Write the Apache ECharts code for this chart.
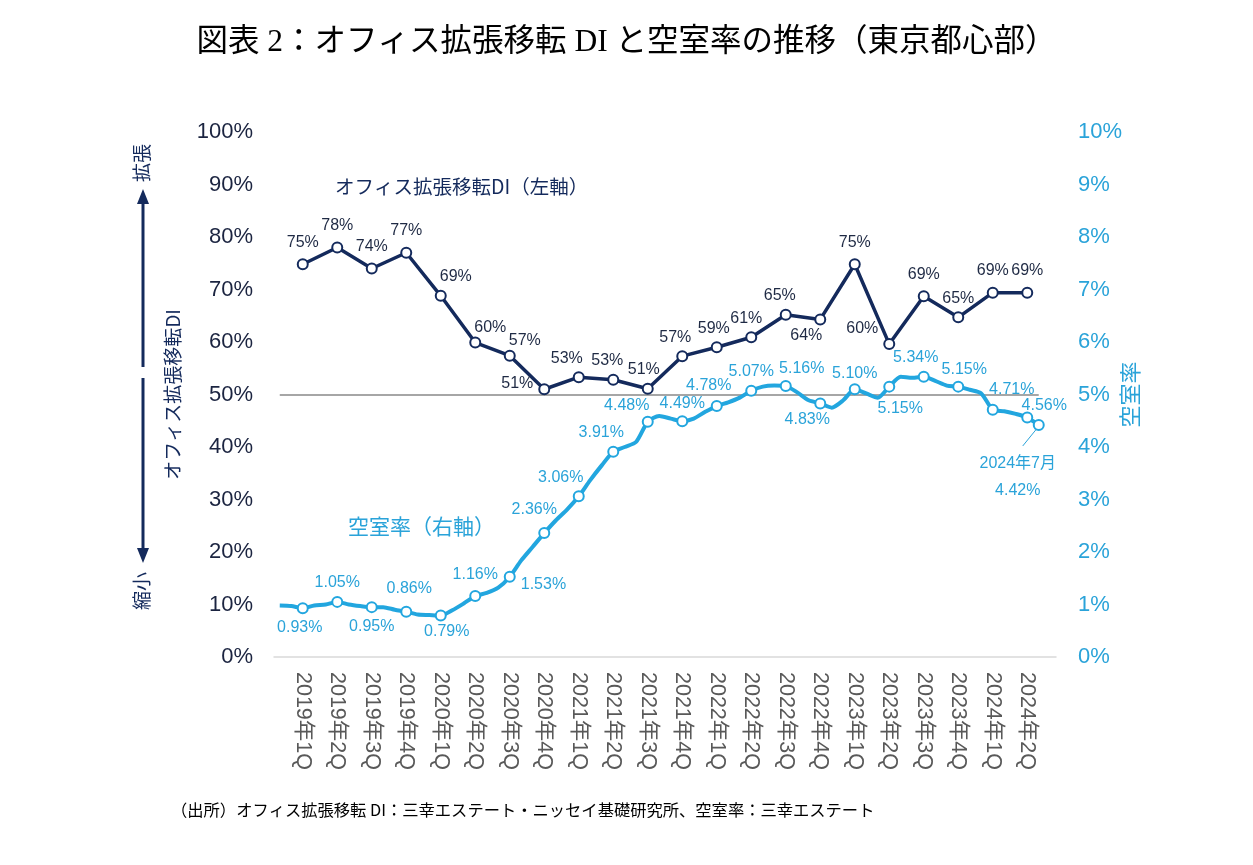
<!DOCTYPE html>
<html>
<head>
<meta charset="utf-8">
<title>オフィス拡張移転DIと空室率の推移（東京都心部）</title>
<script src="https://cdn.jsdelivr.net/npm/echarts@6/dist/echarts.min.js"></script>
<style>
  html, body { margin: 0; padding: 0; background: #fff; }
  #main { width: 1253px; height: 865px; }
</style>
</head>
<body>
<div id="main"></div>
<script>
// 四半期ラベル（横軸）
var quarterLabels = ['2019年1Q', '2019年2Q', '2019年3Q', '2019年4Q',
    '2020年1Q', '2020年2Q', '2020年3Q', '2020年4Q',
    '2021年1Q', '2021年2Q', '2021年3Q', '2021年4Q',
    '2022年1Q', '2022年2Q', '2022年3Q', '2022年4Q',
    '2023年1Q', '2023年2Q', '2023年3Q', '2023年4Q',
    '2024年1Q', '2024年2Q'];

// オフィス拡張移転DI（%、四半期）
var diValues = [74.8, 78.0, 74.0, 77.0, 68.8, 59.9, 57.4, 51.0, 53.3, 52.8, 51.1,
    57.3, 59.0, 60.9, 65.2, 64.3, 74.8, 59.6, 68.7, 64.7, 69.4, 69.4];

// 空室率（%、月次 2019年1月〜2024年7月）
var vacancy2019 = [0.98, 0.97, 0.93, 0.98, 1.00, 1.05, 1.00, 0.97, 0.95, 0.95, 0.90, 0.86];
var vacancy2020 = [0.81, 0.80, 0.79, 0.89, 1.02, 1.16, 1.22, 1.32, 1.53, 1.84, 2.10, 2.36];
var vacancy2021 = [2.60, 2.81, 3.06, 3.37, 3.65, 3.91, 4.00, 4.10, 4.48, 4.59, 4.54, 4.49];
var vacancy2022 = [4.54, 4.67, 4.78, 4.85, 4.94, 5.07, 5.15, 5.17, 5.16, 5.04, 4.89, 4.83];
var vacancy2023 = [4.75, 4.89, 5.10, 5.02, 4.94, 5.15, 5.34, 5.32, 5.34, 5.26, 5.17, 5.15];
var vacancy2024 = [5.09, 5.02, 4.71, 4.68, 4.63, 4.56, 4.42];

var leftTicks = [0, 100, 10];   // min, max, interval
var rightTicks = [0, 10, 1];
var baseLevel = 50;

// ラベル位置（位置, dx, dy）
var diLabelPos = [
    ['top', 0, -3], ['top', 0, -3], ['top', 0, -3], ['top', 0, -3],
    ['top', 15, 0], ['top', 15, 4], ['top', 15, 4], ['left', 0, -6],
    ['top', -12, 0], ['top', -6, 0], ['top', -4, 0], ['top', -7, 0],
    ['top', -3, 0], ['top', -5, 0], ['top', -6, 0], ['bottom', -14, -3],
    ['top', 0, -3], ['left', 0, -16], ['top', 0, -3], ['top', 0, 0],
    ['top', 0, -3], ['top', 0, -3]];
var vacLabelPos = [
    ['bottom', -3, 0], ['top', 0, 0], ['bottom', 0, 0], ['top', 3, -4],
    ['bottom', 6, -3], ['top', 0, -3], ['right', 0, 8], ['top', -10, -5],
    ['top', -18, 0], ['top', -12, 0], ['top', -21, 3], ['top', 0, 1],
    ['top', -8, -1], ['top', 0, 0], ['top', 16, 1], ['bottom', -13, -3],
    ['top', 0, 3], ['bottom', 11, 3], ['top', -8, 0], ['top', 6, 2],
    ['top', 19, -1], ['top', 17, 7], ['bottom', -21, 14]];

var NAVY = '#142a5c';
var CYAN = '#22a6df';
var CYAN_TXT = '#2aa3d9';
var FONT = "'Liberation Sans', 'Noto Sans CJK JP', sans-serif";
var JP = "'Noto Sans CJK JP', sans-serif";

var vacancyValues = vacancy2019.concat(vacancy2020, vacancy2021, vacancy2022, vacancy2023, vacancy2024);

// 月次カテゴリ（2019年1月〜2024年8月）
var months = [];
for (var i = 0; i < 68; i++) {
    months.push((2019 + Math.floor(i / 12)) + '年' + (i % 12 + 1) + '月');
}
var tickText = {};
quarterLabels.forEach(function (q, k) { tickText[2 + 3 * k] = q; });

var diData = months.map(function () { return null; });
diValues.forEach(function (v, k) {
    var p = diLabelPos[k];
    diData[2 + 3 * k] = {
        value: v,
        label: { position: p[0], offset: [p[1], p[2]] }
    };
});

var markedIdx = quarterLabels.map(function (q, k) { return 2 + 3 * k; }).concat([66]);
var vacData = vacancyValues.map(function (v, i) {
    var m = markedIdx.indexOf(i);
    if (m < 0) return { value: v, symbol: 'none' };
    var p = vacLabelPos[m];
    var item = { value: v, symbol: 'circle', label: { show: true, position: p[0], offset: [p[1], p[2]] } };
    if (i === 66) {
        item.label.formatter = '2024年7月\n4.42%';
        item.label.lineHeight = 27;
        item.label.align = 'center';
    }
    return item;
});

var myChart = echarts.init(document.getElementById('main'));

var option = {
    animation: false,
    backgroundColor: '#fff',
    title: [{
        text: '図表 2：オフィス拡張移転 DI と空室率の推移（東京都心部）',
        left: 'center',
        top: 27,
        padding: 0,
        textStyle: { fontFamily: "'Liberation Serif', 'Noto Sans CJK JP', serif", fontSize: 31.5, fontWeight: 'normal', color: '#000' }
    }, {
        text: '（出所）オフィス拡張移転 DI：三幸エステート・ニッセイ基礎研究所、空室率：三幸エステート',
        left: 171,
        top: 802,
        padding: 0,
        textStyle: { fontFamily: JP, fontSize: 16.3, fontWeight: 'normal', color: '#000' }
    }],
    grid: { left: 274, right: 197, top: 132, bottom: 208, containLabel: false },
    xAxis: {
        type: 'category',
        data: months,
        boundaryGap: true,
        axisLine: { lineStyle: { color: '#d9d9d9', width: 1.5 } },
        axisTick: { show: false },
        axisLabel: {
            interval: 0,
            rotate: -90,
            margin: 15,
            color: '#595959',
            fontSize: 21.5,
            fontFamily: FONT,
            formatter: function (v, idx) { return tickText[idx] || ''; }
        },
        splitLine: { show: false }
    },
    yAxis: [{
        type: 'value',
        min: leftTicks[0], max: leftTicks[1], interval: leftTicks[2],
        name: 'オフィス拡張移転DI',
        nameLocation: 'middle',
        nameRotate: 90,
        nameGap: 92,
        nameMoveOverlap: false,
        nameTextStyle: { color: NAVY, fontSize: 19, fontFamily: JP },
        axisLine: { show: false },
        axisTick: { show: false },
        splitLine: { show: false },
        axisLabel: { formatter: '{value}%', color: '#1b2440', fontSize: 22, fontFamily: FONT, margin: 21 }
    }, {
        type: 'value',
        min: rightTicks[0], max: rightTicks[1], interval: rightTicks[2],
        name: '空室率',
        nameLocation: 'middle',
        nameRotate: 90,
        nameGap: 63,
        nameMoveOverlap: false,
        nameTextStyle: { color: CYAN_TXT, fontSize: 22, fontFamily: JP },
        axisLine: { show: false },
        axisTick: { show: false },
        splitLine: { show: false },
        axisLabel: { formatter: '{value}%', color: CYAN_TXT, fontSize: 22, fontFamily: FONT, margin: 22 }
    }],
    series: [{
        name: 'オフィス拡張移転DI',
        type: 'line',
        yAxisIndex: 0,
        data: diData,
        connectNulls: true,
        symbol: 'circle',
        symbolSize: 10,
        showAllSymbol: true,
        z: 4,
        lineStyle: { color: NAVY, width: 3.5 },
        itemStyle: { color: '#fff', borderColor: NAVY, borderWidth: 2 },
        label: {
            show: true,
            color: '#1f2a44',
            fontSize: 16,
            fontFamily: FONT,
            formatter: function (p) { return Math.round(p.value) + '%'; }
        },
        markLine: {
            silent: true,
            symbol: 'none',
            label: { show: false },
            lineStyle: { color: '#a6a6a6', width: 2, type: 'solid' },
            z: 1,
            data: [[{ coord: [months[0], baseLevel] }, { coord: [months[66], baseLevel] }]]
        }
    }, {
        name: '空室率',
        type: 'line',
        yAxisIndex: 1,
        data: vacData,
        smooth: 0.25,
        showSymbol: true,
        showAllSymbol: true,
        symbolSize: 10,
        z: 3,
        lineStyle: { color: CYAN, width: 4 },
        itemStyle: { color: '#fff', borderColor: CYAN, borderWidth: 2 },
        label: {
            show: false,
            color: CYAN_TXT,
            fontSize: 16,
            fontFamily: FONT,
            formatter: function (p) { return p.value.toFixed(2) + '%'; }
        }
    }],
    graphic: {
        elements: [
            { id: 'diName', type: 'text', x: 335, y: 187,
              style: { text: 'オフィス拡張移転DI（左軸）', fill: NAVY, fontSize: 19.5, fontFamily: JP, verticalAlign: 'middle' } },
            { id: 'vacName', type: 'text', x: 348, y: 526,
              style: { text: '空室率（右軸）', fill: CYAN_TXT, fontSize: 21, fontFamily: JP, verticalAlign: 'middle' } },
            { id: 'upLine', type: 'line', shape: { x1: 143, y1: 367, x2: 143, y2: 200 },
              style: { stroke: NAVY, lineWidth: 3 } },
            { id: 'upHead', type: 'polygon', shape: { points: [[143, 189], [137, 204], [149, 204]] },
              style: { fill: NAVY } },
            { id: 'downLine', type: 'line', shape: { x1: 143, y1: 378, x2: 143, y2: 552 },
              style: { stroke: NAVY, lineWidth: 3 } },
            { id: 'downHead', type: 'polygon', shape: { points: [[143, 563], [137, 548], [149, 548]] },
              style: { fill: NAVY } },
            { id: 'expand', type: 'text', x: 142, y: 163, rotation: Math.PI / 2,
              style: { text: '拡張', fill: NAVY, fontSize: 19, fontFamily: JP, align: 'center', verticalAlign: 'middle' } },
            { id: 'shrink', type: 'text', x: 142, y: 591, rotation: Math.PI / 2,
              style: { text: '縮小', fill: NAVY, fontSize: 19, fontFamily: JP, align: 'center', verticalAlign: 'middle' } }
        ]
    }
};
myChart.setOption(option);

// 2024年7月のラベルへの引き出し線
var pt = myChart.convertToPixel({ xAxisIndex: 0, yAxisIndex: 1 }, [months[66], vacancyValues[66]]);
myChart.setOption({
    graphic: {
        elements: [{ id: 'leader', type: 'line',
            shape: { x1: pt[0] - 3, y1: pt[1] + 5, x2: pt[0] - 16, y2: pt[1] + 21 },
            style: { stroke: CYAN_TXT, lineWidth: 1 } }]
    }
});
window.onresize = myChart.resize;
</script>
</body>
</html>
